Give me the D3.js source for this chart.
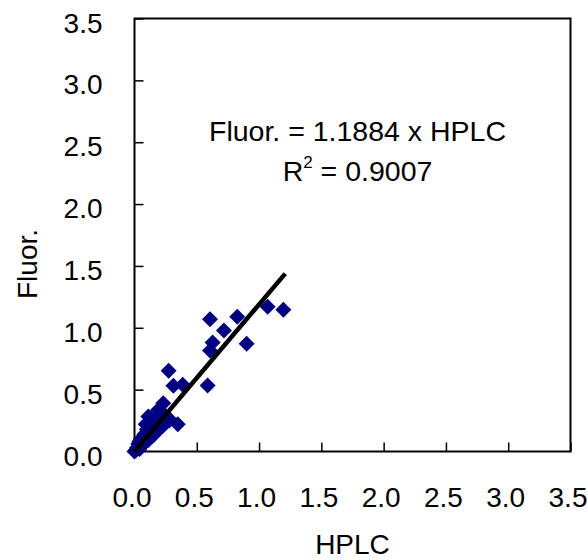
<!DOCTYPE html>
<html>
<head>
<meta charset="utf-8">
<script src="https://cdn.jsdelivr.net/npm/d3@7"></script>
<style>
  body { margin: 0; background: #fff; }
  text { font-family: "Liberation Sans", Arial, sans-serif; fill: #000; }
</style>
</head>
<body>
<script>
// measured points (HPLC, Fluor.)
var hplc  = [0.00, 0.02, 0.03, 0.05, 0.05, 0.07, 0.08, 0.10, 0.10, 0.12, 0.14, 0.15, 0.17, 0.18, 0.20, 0.22, 0.24, 0.26, 0.28, 0.13, 0.09,
             0.01, 0.04, 0.06, 0.11, 0.16, 0.19, 0.21, 0.23, 0.04, 0.07,
             0.111, 0.191, 0.231, 0.271, 0.347, 0.274, 0.312, 0.387, 0.587,
             0.606, 0.627, 0.606, 0.718, 0.825, 0.90, 1.069, 1.195];
var fluor = [0.00, 0.03, 0.06, 0.04, 0.10, 0.08, 0.14, 0.12, 0.18, 0.15, 0.20, 0.13, 0.24, 0.18, 0.22, 0.28, 0.30, 0.26, 0.25, 0.27, 0.22,
             0.01, 0.02, 0.07, 0.09, 0.17, 0.26, 0.19, 0.21, 0.08, 0.12,
             0.283, 0.337, 0.391, 0.27, 0.221, 0.652, 0.531, 0.539, 0.534,
             1.07, 0.881, 0.817, 0.978, 1.09, 0.871, 1.17, 1.146];
var ticks = [0, 0.5, 1.0, 1.5, 2.0, 2.5, 3.0, 3.5];
var slope = 1.1884;
var fitRange = [0, 1.21];
var eqLines = ["Fluor. = 1.1884 x HPLC", "R2 = 0.9007"];

var W = 588, H = 560;
var pLeft = 134.5, pRight = 570.5, pTop = 18.5, pBottom = 451.5;

var svg = d3.select("body").append("svg")
    .attr("width", W)
    .attr("height", H);

var x = d3.scaleLinear().domain([0, 3.5]).range([pLeft, pRight]);
var y = d3.scaleLinear().domain([0, 3.5]).range([pBottom, pTop]);

// frame
svg.append("rect")
    .attr("x", pLeft).attr("y", pTop)
    .attr("width", pRight - pLeft).attr("height", pBottom - pTop)
    .attr("fill", "none").attr("stroke", "#000").attr("stroke-width", 2);

// axes, ticks inside
var xAxis = svg.append("g")
    .attr("transform", "translate(0," + pBottom + ")")
    .call(d3.axisBottom(x).tickValues(ticks).tickSizeInner(-9).tickSizeOuter(0).tickPadding(55)
        .tickFormat(d3.format(".1f")));
var yAxis = svg.append("g")
    .attr("transform", "translate(" + pLeft + ",0)")
    .call(d3.axisLeft(y).tickValues(ticks).tickSizeInner(-9).tickSizeOuter(0).tickPadding(32)
        .tickFormat(d3.format(".1f")));

[xAxis, yAxis].forEach(function (g) {
  g.select(".domain").remove();
  g.selectAll("line").attr("stroke", "#000").attr("stroke-width", 1.5);
  g.selectAll("text").style("font-size", "28px").style("font-family", "Liberation Sans, Arial, sans-serif");
});
xAxis.selectAll("text").attr("dy", "0").attr("dx", "-3");
yAxis.selectAll("text").attr("dy", "13.5px");

// points
var pts = hplc.map(function (v, i) { return { x: v, y: fluor[i] }; });
svg.append("g").selectAll("path")
    .data(pts)
    .enter()
    .append("path")
    .attr("d", d3.symbol().type(d3.symbolSquare).size(128))
    .attr("transform", function (d) { return "translate(" + x(d.x) + "," + y(d.y) + ") rotate(45)"; })
    .attr("fill", "#000080");

// fit line
svg.append("line")
    .attr("x1", x(fitRange[0])).attr("y1", y(slope * fitRange[0]))
    .attr("x2", x(fitRange[1])).attr("y2", y(slope * fitRange[1]))
    .attr("stroke", "#000").attr("stroke-width", 4.5);

// equation
svg.append("text")
    .attr("x", 357.5).attr("y", 141)
    .attr("text-anchor", "middle")
    .style("font-size", "28.5px")
    .text(eqLines[0]);
var r2 = svg.append("text")
    .attr("x", 357.5).attr("y", 181)
    .attr("text-anchor", "middle")
    .style("font-size", "28.5px");
r2.append("tspan").text("R");
r2.append("tspan").attr("dy", -13).style("font-size", "17px").text("2");
r2.append("tspan").attr("dy", 13).text(" = 0.9007");

// axis titles
svg.append("text")
    .attr("x", 352.5).attr("y", 554)
    .attr("text-anchor", "middle")
    .style("font-size", "28px")
    .text("HPLC");
svg.append("text")
    .attr("transform", "translate(37,264) rotate(-90)")
    .attr("text-anchor", "middle")
    .style("font-size", "28px")
    .text("Fluor.");
</script>
</body>
</html>
